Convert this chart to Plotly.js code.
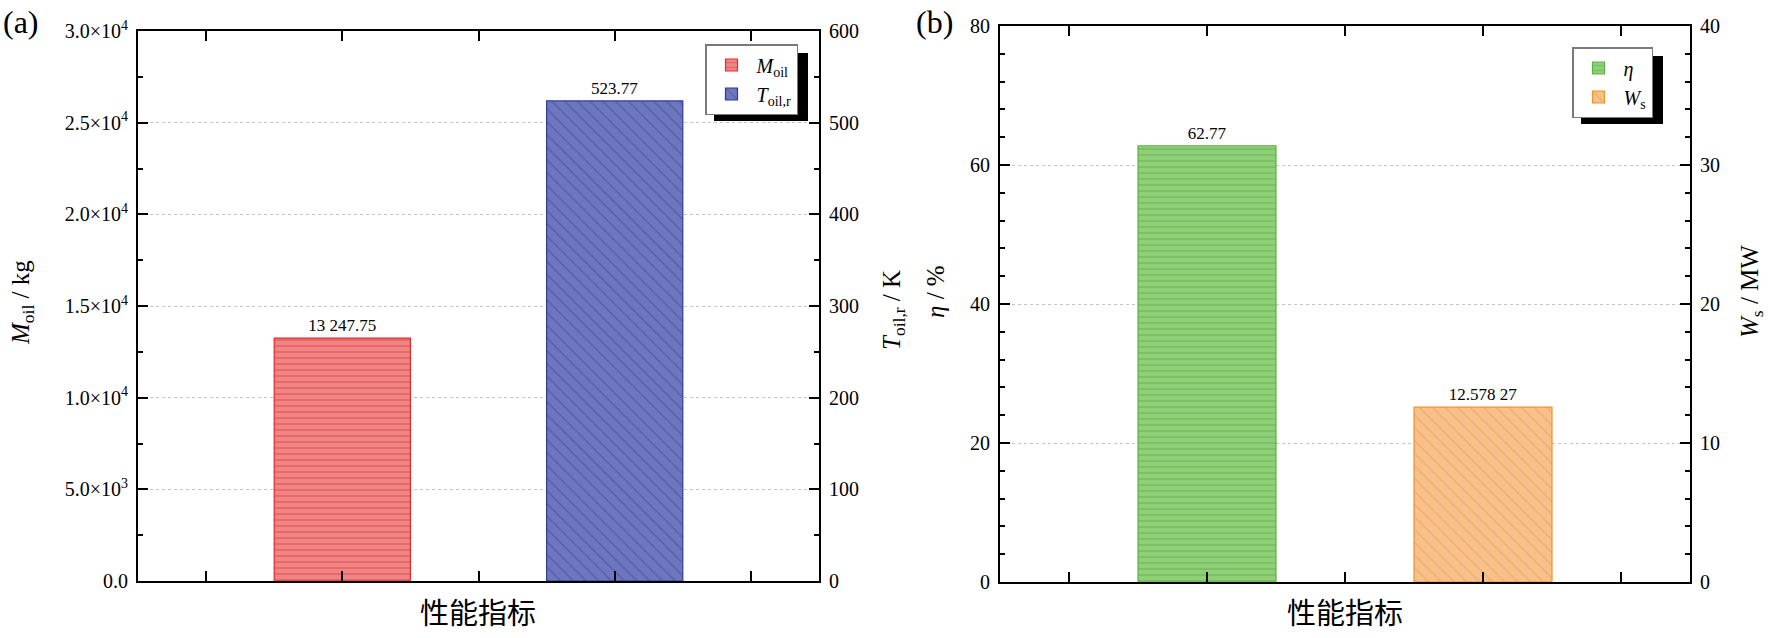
<!DOCTYPE html>
<html>
<head>
<meta charset="utf-8">
<script src="https://cdn.plot.ly/plotly-3.0.1.min.js"></script>
<style>
  html, body { margin: 0; padding: 0; background: #fff; }
  #chart { width: 1772px; height: 638px; }
</style>
</head>
<body>
<div id="chart"></div>
<script>
// ---- data ----
// panel (a): oil mass (left axis) and oil return temperature (right axis)
var namesA = ['<i>M</i><sub>oil</sub>', '<i>T</i><sub>oil,r</sub>'];
var valuesA = [13247.75, 523.77];
var labelsA = ['13 247.75', '523.77'];

// panel (b): efficiency (left axis) and shaft work (right axis)
var namesB = ['<i>η</i>', '<i>W</i><sub>s</sub>'];
var valuesB = [62.77, 12.57827];
var labelsB = ['62.77', '12.578 27'];

// tick labels
var massTickVals = [0, 5000, 10000, 15000, 20000, 25000, 30000];
var massTickText = ['0.0', '5.0×10<sup>3</sup>', '1.0×10<sup>4</sup>', '1.5×10<sup>4</sup>',
                    '2.0×10<sup>4</sup>', '2.5×10<sup>4</sup>', '3.0×10<sup>4</sup>'];
var xSlots = [1, 2, 3, 4, 5];
var xTitle = '性能指标';

// ---- styling ----
var W = 1772, H = 638;
var serif = '"Liberation Serif", "DejaVu Serif", serif';
var cjk = '"Noto Sans CJK SC", sans-serif';

function px(x) { return x / W; }
function py(y) { return 1 - y / H; }

function barTrace(name, value, label, slot, yaxis, legend, fill, line, border, shape, size, solidity) {
    return {
        type: 'bar',
        name: name,
        x: [slot],
        y: [value],
        text: [label],
        textposition: 'outside',
        cliponaxis: false,
        textfont: { family: serif, size: 17, color: '#000' },
        width: 1,
        xaxis: yaxis === 'y' || yaxis === 'y2' ? 'x' : 'x2',
        yaxis: yaxis,
        legend: legend,
        marker: {
            color: fill,
            line: { color: border, width: 1.2 },
            pattern: { shape: shape, bgcolor: fill, fgcolor: line, size: size, solidity: solidity }
        },
        hoverinfo: 'name+y'
    };
}

var traces = [
    barTrace(namesA[0], valuesA[0], labelsA[0], 2, 'y', 'legend', '#f18585', '#e46868', '#e8282c', '-', 6, 0.3),
    barTrace(namesA[1], valuesA[1], labelsA[1], 4, 'y2', 'legend', '#6e77bd', '#535da9', '#2b3e9c', '\\', 9, 0.15),
    barTrace(namesB[0], valuesB[0], labelsB[0], 2, 'y3', 'legend2', '#8fcf78', '#78c160', '#5db33f', '-', 6, 0.3),
    barTrace(namesB[1], valuesB[1], labelsB[1], 4, 'y4', 'legend2', '#f8c08a', '#f1ad69', '#f0922a', '\\', 9, 0.15)
];

var tickFont = { family: serif, size: 20, color: '#000' };

function xAxis(domain, anchor) {
    return {
        domain: domain, anchor: anchor,
        range: [0.5, 5.5], tickmode: 'array', tickvals: xSlots,
        showticklabels: false, showgrid: false, zeroline: false,
        showline: true, linecolor: '#000', linewidth: 2, mirror: 'ticks',
        ticks: 'inside', ticklen: 10, tickwidth: 2, tickcolor: '#000',
        fixedrange: true
    };
}

function yAxis(domain, anchor, range, side, extra) {
    var ax = {
        domain: domain, anchor: anchor, side: side,
        range: range, showline: true, linecolor: '#000', linewidth: 2,
        zeroline: false, showgrid: false,
        ticks: 'inside', ticklen: 10, tickwidth: 2, tickcolor: '#000',
        tickfont: tickFont, ticklabelstandoff: 4,
        fixedrange: true
    };
    return Object.assign(ax, extra);
}

var gridStyle = { showgrid: true, gridcolor: '#c4c4c4', gridwidth: 1, griddash: 'dot' };
function minor(step) {
    return { ticks: 'inside', ticklen: 5, tickwidth: 2, tickcolor: '#000', tickmode: 'linear', tick0: 0, dtick: step, showgrid: false };
}

var domA = [px(138), px(819)];
var domB = [px(1000), px(1690)];
var yDomA = [py(581), py(31)];
var yDomB = [py(582), py(26)];

var legendBase = {
    bgcolor: '#fff', bordercolor: '#7a7a7a', borderwidth: 1.5,
    font: { family: serif, size: 20, color: '#000' },
    xanchor: 'left', yanchor: 'top', tracegroupgap: 0, itemwidth: 40
};

function annot(text, x, y, size, angle, family) {
    return {
        text: text, xref: 'paper', yref: 'paper', x: px(x), y: py(y),
        xanchor: 'center', yanchor: 'middle', showarrow: false,
        textangle: angle || 0,
        font: { family: family || serif, size: size, color: '#000' }
    };
}

// drop shadow offset behind a legend box given its pixel bounds
function shadow(x0, y0, x1, y1) {
    return { type: 'rect', xref: 'paper', yref: 'paper',
             x0: px(x0 + 8), x1: px(x1 + 8), y0: py(y1 + 8), y1: py(y0 + 8),
             fillcolor: '#000', line: { width: 0 }, layer: 'above' };
}

var layout = {
    width: W, height: H,
    margin: { l: 0, r: 0, t: 0, b: 0 },
    paper_bgcolor: '#fff', plot_bgcolor: 'rgba(0,0,0,0)',
    barmode: 'overlay',
    xaxis: xAxis(domA, 'y'),
    xaxis2: xAxis(domB, 'y3'),
    yaxis: yAxis(yDomA, 'x', [0, 30000], 'left',
        Object.assign({ tickmode: 'array', tickvals: massTickVals, ticktext: massTickText, minor: minor(2500) }, gridStyle)),
    yaxis2: yAxis(yDomA, 'x', [0, 600], 'right',
        { overlaying: 'y', tickmode: 'linear', tick0: 0, dtick: 100, minor: minor(50) }),
    yaxis3: yAxis(yDomB, 'x2', [0, 80], 'left',
        Object.assign({ tickmode: 'linear', tick0: 0, dtick: 20, minor: minor(4) }, gridStyle)),
    yaxis4: yAxis(yDomB, 'x2', [0, 40], 'right',
        { overlaying: 'y3', tickmode: 'linear', tick0: 0, dtick: 10, minor: minor(2) }),
    legend: Object.assign({ x: px(705), y: py(44) }, legendBase),
    legend2: Object.assign({ x: px(1572), y: py(47) }, legendBase),
    shapes: [
        shadow(706, 45, 800, 113),
        shadow(1573, 48, 1655, 116)
    ],
    annotations: [
        annot('(a)', 21, 22, 32),
        annot('(b)', 934, 22, 32),
        annot('<i>M</i><sub>oil</sub> / kg', 22, 303, 25, -90),
        annot('<i>T</i><sub>oil,r</sub> / K', 893, 310, 25, -90),
        annot('<i>η</i> / %', 936, 292, 25, -90),
        annot('<i>W</i><sub>s</sub> / MW', 1752, 292, 25, -90),
        annot(xTitle, 478, 611, 29, 0, cjk),
        annot(xTitle, 1345, 611, 29, 0, cjk)
    ],
    showlegend: true
};

Plotly.newPlot('chart', traces, layout, { displayModeBar: false, responsive: false });
</script>
</body>
</html>
